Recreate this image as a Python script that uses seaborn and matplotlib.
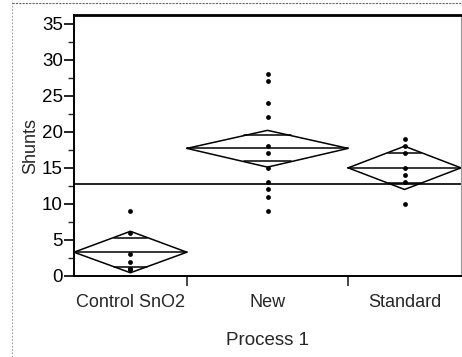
import numpy as np
import pandas as pd
import matplotlib
matplotlib.use("Agg")
import matplotlib.pyplot as plt
from matplotlib.ticker import MultipleLocator
from matplotlib.lines import Line2D
import seaborn as sns

# Data
groups = ["Control SnO2", "New", "Standard"]
group_width = [7, 10, 7]          # relative width of each group on the x axis
control_shunts = [9, 6, 3, 2, 1, 1, 1]
new_shunts = [28, 27, 24, 22, 18, 17, 15, 13, 12, 11, 9]
standard_shunts = [19, 18, 17, 15, 14, 13, 10]
diamond_mean = [3.3, 17.7, 15.0]
diamond_lo = [0.45, 15.1, 12.0]
diamond_hi = [6.2, 20.2, 18.0]
grand_mean = 12.8

sns.set_style("ticks")
plt.rcParams['font.family'] = ['Liberation Sans', 'DejaVu Sans']

edges = np.concatenate([[0], np.cumsum(group_width)])
centers = (edges[:-1] + edges[1:]) / 2

# long table of the points
rows = []
for c, vals in zip(centers, [control_shunts, new_shunts, standard_shunts]):
    for v in vals:
        rows.append({"pos": c, "Shunts": v})
df = pd.DataFrame(rows)

fig = plt.figure(figsize=(4.62, 3.57), dpi=100)
ax = fig.add_axes([74/462, 81/357, 387/462, 261/357])

# grand mean line
ax.axhline(grand_mean, color="#222222", lw=1.4, zorder=1)

# means diamonds
k = 1 - np.sqrt(2) / 2
for i in range(len(groups)):
    left, right, c = edges[i], edges[i + 1], centers[i]
    m, lo, hi = diamond_mean[i], diamond_lo[i], diamond_hi[i]
    ax.plot([left, c, right, c, left], [m, hi, m, lo, m], color="black", lw=1.1, zorder=2)
    ax.plot([left, right], [m, m], color="black", lw=1.1, zorder=2)
    half = (hi - lo) / 2
    off = half * np.sqrt(2) / 2
    hw = (right - left) / 2 * k
    for y in (m + off, m - off):
        ax.plot([c - hw, c + hw], [y, y], color="black", lw=1.1, zorder=2)

sns.scatterplot(data=df, x="pos", y="Shunts", color="black", s=12, linewidth=0,
                ax=ax, legend=False, zorder=3)

ax.set_xlim(0, edges[-1])
ax.set_ylim(0, 36.2)
ax.set_yticks(range(0, 36, 5))
ax.yaxis.set_minor_locator(MultipleLocator(2.5))
ax.tick_params(axis="y", which="major", length=7, width=1.2, labelsize=13.5, pad=1, colors="black")
ax.tick_params(axis="y", which="minor", length=4, width=1)

ax.set_xticks(edges[1:-1])
ax.set_xticklabels([])
ax.set_xticks(centers, minor=True)
ax.set_xticklabels(groups, minor=True)
ax.tick_params(axis="x", which="major", length=7, width=1.2)
ax.tick_params(axis="x", which="minor", length=0, pad=13, labelsize=13)

ax.set_xlabel("Process 1", fontsize=13.5, labelpad=15)
ax.set_ylabel("Shunts", fontsize=13, labelpad=2)

for side in ["left", "bottom"]:
    ax.spines[side].set_color("black")
    ax.spines[side].set_linewidth(1.4)
ax.spines["top"].set_color("black")
ax.spines["top"].set_linewidth(2)
ax.spines["right"].set_color("#999999")
ax.spines["right"].set_linewidth(0.8)

# faint scan border
fig.add_artist(Line2D([12/462, 12/462], [0, 1], color="#888888", lw=0.6, ls=(0, (2, 2))))
fig.add_artist(Line2D([12/462, 1], [1 - 3/357, 1 - 3/357], color="#666666", lw=0.8, ls=(0, (2, 1))))

plt.savefig("out.png", dpi=100)
